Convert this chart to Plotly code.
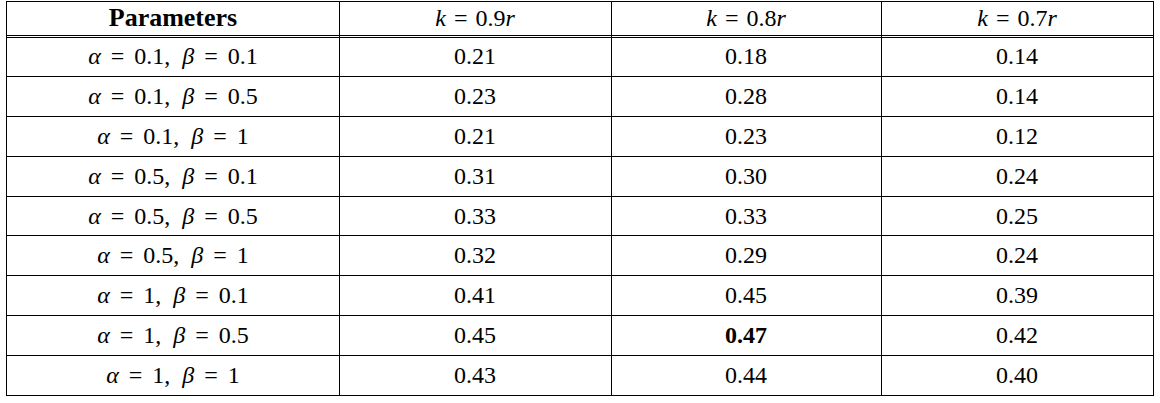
import plotly.graph_objects as go

# ---- data ----
k_factors = ["0.9", "0.8", "0.7"]
alphas = ["0.1", "0.1", "0.1", "0.5", "0.5", "0.5", "1", "1", "1"]
betas = ["0.1", "0.5", "1", "0.1", "0.5", "1", "0.1", "0.5", "1"]
k09 = [0.21, 0.23, 0.21, 0.31, 0.33, 0.32, 0.41, 0.45, 0.43]
k08 = [0.18, 0.28, 0.23, 0.30, 0.33, 0.29, 0.45, 0.47, 0.44]
k07 = [0.14, 0.14, 0.12, 0.24, 0.25, 0.24, 0.39, 0.42, 0.40]

# ---- layout constants (pixels) ----
W, H = 1160, 403
ML, MR, MT, MB = 7, 7, 2, 8
COL_W = [332, 272, 270, 272]
HEADER_H = 33
DOUBLE_GAP = 2
PLOT_H = H - MT - MB
N_ROWS = len(alphas)
ROW_H = (PLOT_H - HEADER_H - DOUBLE_GAP) / N_ROWS
FONT = "Liberation Serif"
SP_EQ = "\u2004\u200a"
SP_COMMA = "\u2002"
SP_K = "\u2004"

best = max(k09 + k08 + k07)


def fmt(col):
    return [f"<b>{v:.2f}</b>" if v == best else f"{v:.2f}" for v in col]


param_text = [
    f"<i>α</i>{SP_EQ}={SP_EQ}{a},{SP_COMMA}<i>β</i>{SP_EQ}={SP_EQ}{b}"
    for a, b in zip(alphas, betas)
]
header_text = ["<b>Parameters</b>"] + [f"<i>k</i>{SP_K}={SP_K}{k}<i>r</i>" for k in k_factors]
columns = [param_text, fmt(k09), fmt(k08), fmt(k07)]

# column boundaries / centres
x_bounds = [0]
for w in COL_W:
    x_bounds.append(x_bounds[-1] + w)
x_centres = [(x_bounds[i] + x_bounds[i + 1]) / 2 for i in range(len(COL_W))]

body_top = HEADER_H + DOUBLE_GAP
y_bounds = [HEADER_H, body_top] + [body_top + i * ROW_H for i in range(1, N_ROWS)]
y_rows = [body_top + (i + 0.5) * ROW_H + 1.5 for i in range(N_ROWS)]
y_header = HEADER_H / 2 + 1

fig = go.Figure()
# header
fig.add_trace(go.Scatter(
    x=x_centres, y=[y_header] * len(x_centres), mode="text", text=header_text,
    textposition="middle center", hoverinfo="skip", showlegend=False,
    textfont=dict(family=FONT, size=[26, 24, 24, 24], color="black"),
))
# body columns
for xc, col in zip(x_centres, columns):
    fig.add_trace(go.Scatter(
        x=[xc] * N_ROWS, y=y_rows, mode="text", text=col,
        textposition="middle center", hoverinfo="skip", showlegend=False,
        textfont=dict(family=FONT, size=24, color="black"),
    ))

fig.update_xaxes(
    range=[0, x_bounds[-1]], tickvals=x_bounds[1:-1], showticklabels=False,
    showgrid=True, gridcolor="black", gridwidth=1, zeroline=False,
    showline=True, linecolor="black", linewidth=1, mirror=True, ticks="",
    fixedrange=True,
)
fig.update_yaxes(
    range=[PLOT_H, 0], tickvals=y_bounds, showticklabels=False,
    showgrid=True, gridcolor="black", gridwidth=1, zeroline=False,
    showline=True, linecolor="black", linewidth=1, mirror=True, ticks="",
    fixedrange=True,
)
fig.update_layout(
    width=W, height=H,
    margin=dict(l=ML, r=MR, t=MT, b=MB),
    paper_bgcolor="white", plot_bgcolor="white",
)
fig.write_html("out.html", config={"displayModeBar": False},
               post_script="document.body.style.margin='0';")
